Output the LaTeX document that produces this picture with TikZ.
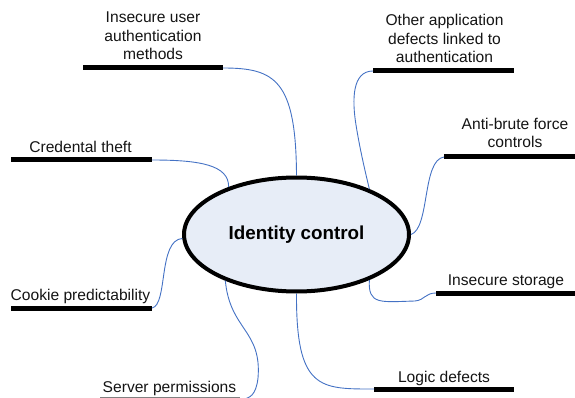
\documentclass[tikz,border=0pt]{standalone}
\usepackage{fontspec}
\setmainfont{Liberation Sans}
\usetikzlibrary{shapes.geometric}
\definecolor{linkblue}{HTML}{4472C4}
\definecolor{hubfill}{HTML}{E7EDF7}
\definecolor{inktext}{HTML}{141414}
\begin{document}
\begin{tikzpicture}[x=1pt,y=-1pt,
  bar/.style={line width=5pt},
  link/.style={draw=linkblue,line width=0.9pt},
  lbl/.style={font=\fontsize{15.6}{18.5}\selectfont,text=inktext,align=center,inner sep=0pt,anchor=base},
  hub/.style={ellipse,draw,line width=4pt,fill=hubfill,minimum width=225pt,
    minimum height=114pt,inner sep=0pt,font=\bfseries\fontsize{18.8}{22}\selectfont}]
\useasboundingbox (0,0) rectangle (575,398);

% central topic
\node[hub] (id) at (296.5,234.5) {Identity control};

% bar ends
\coordinate (b1l) at (83,68);   \coordinate (b1r) at (223,68);
\coordinate (b2l) at (11,160);  \coordinate (b2r) at (152,160);
\coordinate (b3l) at (11,308);  \coordinate (b3r) at (152,308);
\coordinate (b4l) at (100,399.5); \coordinate (b4r) at (240,399.5);
\coordinate (b5l) at (373,71);  \coordinate (b5r) at (514,71);
\coordinate (b6l) at (444,157); \coordinate (b6r) at (576,157);
\coordinate (b7l) at (436,293); \coordinate (b7r) at (576,293);
\coordinate (b8l) at (374,389); \coordinate (b8r) at (514,389);

% bars
\foreach \i in {1,2,3,5,6,7,8} \draw[bar] (b\i l) -- (b\i r);
\draw[bar,draw=gray] (b4l) -- (b4r);

% labels (anchored at the baseline of the last line)
\node[lbl] (t1) at (153,60) {Insecure user\\authentication\\methods};
\node[lbl] (t2) at (80.5,153) {Credental theft};
\node[lbl] (t3) at (80.5,300) {Cookie predictability};
\node[lbl] (t4) at (169.5,392) {Server permissions};
\node[lbl] (t5) at (444.5,63) {Other application\\defects linked to\\authentication};
\node[lbl] (t6) at (515,148) {Anti-brute force\\controls};
\node[lbl] (t7) at (506,285) {Insecure storage};
\node[lbl] (t8) at (444,382) {Logic defects};

% connectors
\draw[link] (b1r) .. controls (275,68) and (296,80) .. (id.north);
\draw[link] (b2r) .. controls (200,160) and (229,165) .. (id.145.7);
\draw[link] (b3r) .. controls (168,305) and (158,240) .. (id.182);
\draw[link] (id.-147) .. controls (230,330) and (262,330) .. (258,378)
  .. controls (256,395) and (250,399) .. (b4r);
\draw[link] (id.south) .. controls (296,390) and (320,389) .. (b8l);
\draw[link] (id.-32) .. controls (368,305) and (380,302) .. (415,301)
  .. controls (425,300) and (425,293) .. (b7l);
\draw[link] (id.east) .. controls (430,228) and (422,160) .. (b6l);
\draw[link] (b5l) .. controls (352,71) and (352,100) .. (356,125)
  .. controls (360,150) and (366,175) .. (id.32);
\end{tikzpicture}
\end{document}
